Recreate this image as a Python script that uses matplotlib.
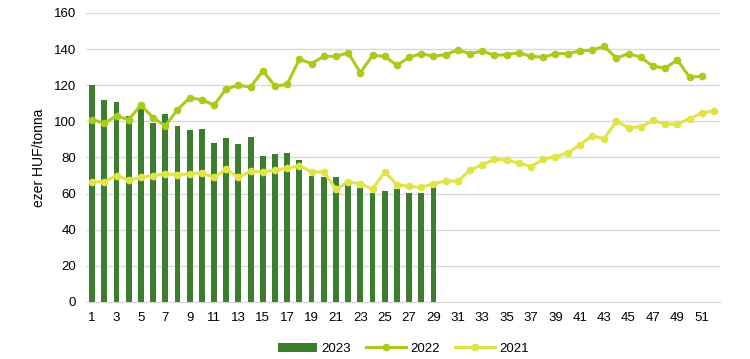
import matplotlib
matplotlib.use("Agg")
import matplotlib.pyplot as plt

plt.rcParams["font.family"] = ["Liberation Sans", "DejaVu Sans"]

weeks_2023 = list(range(1, 30))
price_2023 = [120, 112, 111, 103, 107, 99, 104, 97.5, 95, 96,
              88, 91, 87.5, 91.5, 81, 82, 82.5, 78.5, 69.5, 69,
              69, 65, 63, 60.5, 61.5, 62.5, 60.5, 60.5, 64]

weeks_2022 = list(range(1, 52))
price_2022 = [101, 99, 103, 101, 109, 102, 97.5, 106.5, 113, 112,
              109, 118, 120, 119, 128, 119.5, 120.5, 134.5, 132, 136,
              136, 138, 127, 136.5, 136, 131, 135.5, 137.5, 136, 137,
              139.5, 137.5, 139, 136.5, 137, 138, 136, 135.5, 137.5, 137.5,
              139, 139.5, 141.5, 135, 137.5, 135.5, 130.5, 129.5, 134, 124.5,
              125]

weeks_2021 = list(range(1, 53))
price_2021 = [66.5, 66.5, 70, 67.5, 69, 70, 71, 70.5, 71, 71.5,
              69, 73.5, 69, 72.5, 72, 73, 74, 75.5, 72, 72,
              62.5, 66.5, 65.5, 62.5, 72, 65, 64, 63.5, 65.5, 67,
              67, 73, 76, 79, 78.5, 77, 75, 79, 80.5, 82.5,
              87, 92, 90.5, 100, 96.5, 97, 100.5, 98.5, 98.5, 101.5,
              104.5, 106]

tick_weeks = list(range(1, 52, 2))

fig = plt.figure(figsize=(7.5, 3.59), dpi=100)
ax = fig.add_axes([0.1147, 0.1588, 0.8453, 0.805])

b23 = ax.bar(weeks_2023, price_2023, width=0.48, color="#3c7d2f", label="2023", zorder=2)
l22, = ax.plot(weeks_2022, price_2022, color="#a8cb1c", lw=2.2, marker="o", ms=4.5,
               label="2022", zorder=3)
l21, = ax.plot(weeks_2021, price_2021, color="#e0e545", lw=2.2, marker="o", ms=4.5,
               label="2021", zorder=3)

ax.set_xlim(0.5, 52.5)
ax.set_ylim(0, 160)
ax.set_yticks(range(0, 161, 20))
ax.set_xticks(tick_weeks)
ax.tick_params(length=0, labelsize=9.5, pad=7)
ax.grid(axis="y", color="#d9d9d9", lw=1, zorder=0)
ax.set_axisbelow(True)
for s in ["top", "right", "left"]:
    ax.spines[s].set_visible(False)
ax.spines["bottom"].set_color("#d9d9d9")
ax.set_ylabel("ezer HUF/tonna", fontsize=10, labelpad=6)

ax.legend([b23, l22, l21], ["2023", "2022", "2021"], loc="upper center",
          bbox_to_anchor=(0.5, -0.1), ncol=3, frameon=False,
          fontsize=9.5, handlelength=3, columnspacing=1.2, handletextpad=0.3)

fig.savefig("out.png", dpi=100)
